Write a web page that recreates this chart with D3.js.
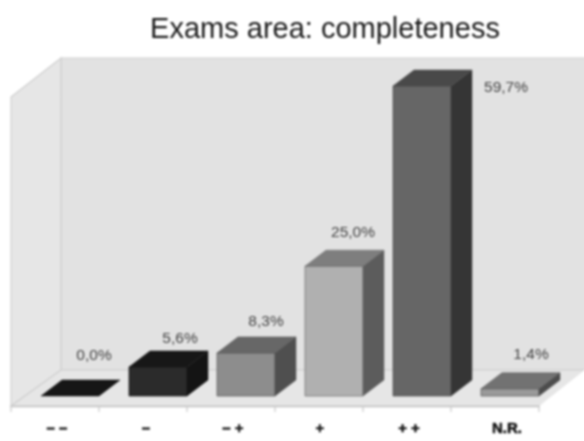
<!DOCTYPE html>
<html><head><meta charset="utf-8">
<script src="https://cdn.jsdelivr.net/npm/d3@7"></script>
<style>html,body{margin:0;padding:0;background:#fff}svg{display:block}</style>
</head><body><svg id="c" width="584" height="441"></svg>
<script>
const categories = ["– –", "–", "– +", "+", "+ +", "N.R."];
const values = [0.0, 5.6, 8.3, 25.0, 59.7, 1.4];
const valueLabels = ["0,0%", "5,6%", "8,3%", "25,0%", "59,7%", "1,4%"];
const frontColors = ["#1c1c1c", "#2b2b2b", "#8d8d8d", "#b0b0b0", "#666666", "#9a9a9a"];
const topColors = ["#161616", "#171717", "#676767", "#7e7e7e", "#494949", "#727272"];
const sideColors = ["#111111", "#141414", "#4f4f4f", "#5c5c5c", "#353535", "#4c4c4c"];
const edgeColors = ["#111111", "#1a1a1a", "#555555", "#6a6a6a", "#4a4a4a", "#555555"];

const W = 584, H = 441;
const svg = d3.select("#c");
const defs = svg.append("defs");
defs.append("filter").attr("id", "soft").attr("x", "-5%").attr("y", "-5%").attr("width", "110%").attr("height", "110%")
  .attr("color-interpolation-filters", "sRGB")
  .append("feGaussianBlur").attr("stdDeviation", 0.8);
const g = svg.append("g").attr("filter", "url(#soft)");
g.append("rect").attr("width", W).attr("height", H).attr("fill", "#fff");

const floorFront = 406, floorBack = 370, wallTop = 58, axisL = 11, axisR = 539;
const wallDx = 50;
const barDx = 21, barDy = 16, barBase = 396, barW = 58;

const x = d3.scaleBand().domain(categories).range([axisL, axisR]);
const y = d3.scaleLinear().domain([0, 59.7]).range([barBase, 86]);
const poly = pts => pts.map(p => p.join(",")).join(" ");
const edge = "#d0d0d0";

// walls and floor
g.append("polygon").attr("points", poly([[axisL+wallDx, wallTop],[W+20, wallTop],[W+20, floorBack],[axisL+wallDx, floorBack]]))
  .attr("fill", "#e2e2e2").attr("stroke", edge).attr("stroke-width", 1.2);
g.append("polygon").attr("points", poly([[axisL, 97],[axisL+wallDx, wallTop],[axisL+wallDx, floorBack],[axisL, floorFront]]))
  .attr("fill", "#e6e6e6").attr("stroke", edge).attr("stroke-width", 1.2);
g.append("polygon").attr("points", poly([[axisL, floorFront],[axisL+wallDx, floorBack],[W+20, floorBack],[axisR, floorFront]]))
  .attr("fill", "#e6e6e6").attr("stroke", edge).attr("stroke-width", 1.2);
g.append("polygon").attr("points", poly([[axisR, floorFront],[W+2, floorBack-1],[W+2, floorFront+2]])).attr("fill", "#fff");

// category axis
const axis = d3.axisBottom(x).tickSize(0).tickFormat("");
const axG = g.append("g").attr("transform", `translate(0,${floorFront})`).call(axis);
axG.select(".domain").attr("stroke", "#c4c4c4").attr("stroke-width", 1.3);
g.selectAll("line.tk").data(d3.range(categories.length + 1)).join("line").attr("class", "tk")
  .attr("x1", i => axisL + i * x.step()).attr("x2", i => axisL + i * x.step())
  .attr("y1", floorFront).attr("y2", floorFront + 6).attr("stroke", "#c8c8c8").attr("stroke-width", 1.2);

const catOffset = [2, 3, 2, 1, 2, 12];
g.selectAll("text.cat").data(categories).join("text").attr("class", "cat")
  .attr("x", (d,i) => x(d) + x.bandwidth()/2 + catOffset[i]).attr("y", 433)
  .attr("text-anchor", "middle").attr("font-family", "Liberation Sans").attr("font-weight", "bold")
  .attr("font-size", 15).attr("fill", "#111").attr("stroke", "#111").attr("stroke-width", 0.5).text(d => d);

// bars
categories.forEach((c, i) => {
  const x0 = x(c) + 30, x1 = x0 + barW, yt = y(values[i]), yb = barBase;
  const b = g.append("g");
  if (values[i] > 0) {
    b.append("polygon").attr("points", poly([[x0,yt],[x1,yt],[x1,yb],[x0,yb]]))
      .attr("fill", frontColors[i]).attr("stroke", edgeColors[i]).attr("stroke-width", .7);
    b.append("polygon").attr("points", poly([[x1,yt],[x1+barDx,yt-barDy],[x1+barDx,yb-barDy],[x1,yb]]))
      .attr("fill", sideColors[i]).attr("stroke", edgeColors[i]).attr("stroke-width", .5);
  }
  b.append("polygon").attr("points", poly([[x0,yt],[x1,yt],[x1+barDx,yt-barDy],[x0+barDx,yt-barDy]]))
    .attr("fill", topColors[i]).attr("stroke", edgeColors[i]).attr("stroke-width", .5);
});

// value labels
const labelDx = [53, 51, 49, 48, 113, 50];
const labelDy = [-36, -24, -27, -29, 6, -30];
g.selectAll("text.val").data(valueLabels).join("text").attr("class", "val")
  .attr("x", (d,i) => x(categories[i]) + 30 + labelDx[i])
  .attr("y", (d,i) => y(values[i]) + labelDy[i])
  .attr("text-anchor", "middle").attr("font-family", "Liberation Sans")
  .attr("font-size", 15.5).attr("fill", "#444").text(d => d);

g.append("text").attr("x", 325).attr("y", 38).attr("text-anchor", "middle")
  .attr("font-family", "Liberation Sans").attr("font-size", 29).attr("fill", "#1a1a1a")
  .text("Exams area: completeness");
</script></body></html>
